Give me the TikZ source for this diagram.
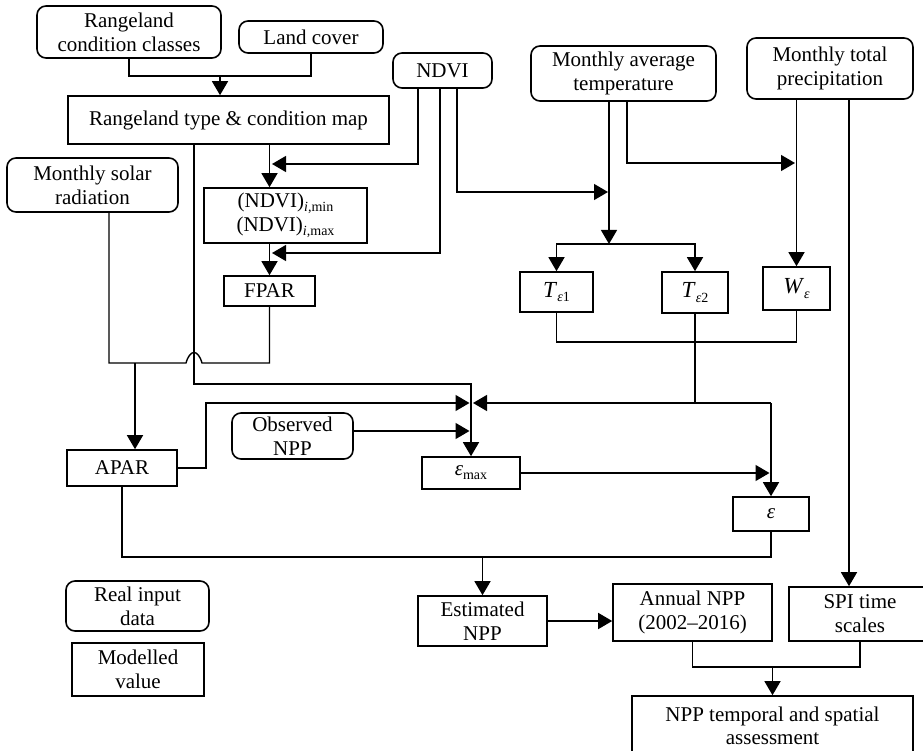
\documentclass[tikz,border=0pt]{standalone}
\usepackage{fontspec}
\setmainfont{Liberation Serif}
\usetikzlibrary{arrows.meta}
\newcommand\mysub[1]{\raisebox{-0.4ex}{\fontsize{14}{15}\selectfont #1}}
\begin{document}
\begin{tikzpicture}[x=1pt,y=-1pt, line width=1.4pt,
  box/.style={draw, line width=1.6pt, inner sep=0pt, align=center, font=\fontsize{21}{24}\selectfont},
  rbox/.style={box, rounded corners=9pt},
  arr/.style={-{Triangle[length=14pt,width=16pt]}}]
\useasboundingbox (0,0) rectangle (923,751);
\clip (0,0) rectangle (923,751);

% nodes
\node[rbox, minimum width=184pt, minimum height=52pt] (rcc) at (129,32) {Rangeland\\condition classes};
\node[rbox, minimum width=144pt, minimum height=32pt] (lc) at (311,37) {Land cover};
\node[box, minimum width=321pt, minimum height=48pt] (map) at (228.5,120) {Rangeland type \& condition map};
\node[rbox, minimum width=99pt, minimum height=35pt] (ndvi) at (442.5,70.5) {NDVI};
\node[rbox, minimum width=185pt, minimum height=55pt] (temp) at (623.5,73.5) {Monthly average\\temperature};
\node[rbox, minimum width=166pt, minimum height=61pt] (prec) at (830,68.5) {Monthly total\\precipitation};
\node[rbox, minimum width=171pt, minimum height=54pt] (solar) at (92.5,185) {Monthly solar\\radiation};
\node[box, minimum width=163pt, minimum height=55pt] (ndvimm) at (285.5,215.5) {(NDVI)\mysub{\textit{i},min}\\(NDVI)\mysub{\textit{i},max}};
\node[box, minimum width=91pt, minimum height=30pt] (fpar) at (269.5,291) {FPAR};
\node[box, minimum width=73pt, minimum height=40pt, font=\fontsize{23}{24}\selectfont] (te1) at (556.5,292) {\textit{T}\mysub{\textit{ε}1}};
\node[box, minimum width=66pt, minimum height=41pt, font=\fontsize{23}{24}\selectfont] (te2) at (695,292.5) {\textit{T}\mysub{\textit{ε}2}};
\node[box, minimum width=67pt, minimum height=43pt, font=\fontsize{23}{24}\selectfont] (we) at (796.5,288.5) {\textit{W}\mysub{\textit{ε}}};
\node[box, minimum width=110pt, minimum height=36pt] (apar) at (122,468) {APAR};
\node[rbox, minimum width=121pt, minimum height=46pt] (obs) at (292.5,436) {Observed\\NPP};
\node[box, minimum width=98pt, minimum height=32pt] (emax) at (471,473) {\textit{ε}\mysub{max}};
\node[box, minimum width=76pt, minimum height=34pt] (eps) at (771,514) {\textit{ε}};
\node[box, minimum width=129pt, minimum height=50pt] (est) at (482.5,621) {Estimated\\NPP};
\node[box, minimum width=159pt, minimum height=57pt] (ann) at (692.5,612.5) {Annual NPP\\(2002--2016)};
\node[box, minimum width=142pt, minimum height=54pt] (spi) at (860,614) {SPI time\\scales};
\node[box, minimum width=281pt, minimum height=60pt, font=\fontsize{21}{23}\selectfont] (assess) at (772.5,726) {NPP temporal and spatial\\assessment};
\node[rbox, minimum width=143pt, minimum height=50pt] (real) at (137.5,606) {Real input\\data};
\node[box, minimum width=132pt, minimum height=53pt] (model) at (138,669.5) {Modelled\\value};

% coordinates
\coordinate (j1) at (220,76);
\coordinate (a1) at (272,164);
\coordinate (a2) at (272,253);
\coordinate (a3) at (608,192);
\coordinate (tsplit) at (609,244);
\coordinate (a4) at (795,163);
\coordinate (tw) at (796.5,342);
\coordinate (e1) at (771,403);
\coordinate (a5) at (473,403);
\coordinate (a6) at (469.5,403);
\coordinate (a7) at (469.5,431);
\coordinate (a8) at (769.5,473);
\coordinate (p1) at (206,403);
\coordinate (m1) at (194,384);
\coordinate (s1) at (109,363);
\coordinate (s2) at (135,363);
\coordinate (jl) at (186,363);
\coordinate (jr) at (202,363);
\coordinate (b1) at (482.5,557);
\coordinate (b2) at (772.5,667);

% connectors
\draw (rcc.south) |- (j1) -| (lc.south);
\draw[arr] (j1) -- (j1 |- map.north);
\draw[arr] (map.south -| fpar.north) -- (ndvimm.north -| fpar.north);
\draw[arr] (ndvimm.south -| fpar.north) -- (fpar.north);
\draw[arr] ([xshift=-24.5pt]ndvi.south) |- (a1);
\draw[arr] ([xshift=-2.5pt]ndvi.south) |- (a2);
\draw[arr] ([xshift=14.5pt]ndvi.south) |- (a3);
\draw[arr] (temp.south -| tsplit) -- (tsplit);
\draw[arr] (tsplit) -| (te1.north);
\draw[arr] (tsplit) -| (te2.north);
\draw[arr] ([xshift=3.5pt]temp.south) |- (a4);
\draw[arr] (prec.south -| we.north) -- (we.north);
\draw[arr] ([xshift=19pt]prec.south) coordinate (pp) -- (pp |- spi.north);
\draw (te1.south) |- (tw) -- (we.south);
\draw (te2.south) -- (te2.south |- e1);
\draw[arr] (e1) -- (a5);
\draw[arr] (e1) -- (eps.north);
\draw[arr] (emax.east) -- (a8);
\draw (solar.south -| s1) -- (s1) -- (jl) .. controls (190,349) and (198,349) .. (jr) -| (fpar.south);
\draw[arr] (s2) -- (s2 |- apar.north);
\draw[arr] (map.south -| m1) -- (m1) -| (emax.north);
\draw[arr] (apar.east) -| (p1) -- (a6);
\draw[arr] ([yshift=5pt]obs.east) -- (a7);
\draw (apar.south) |- (b1) -| (eps.south);
\draw[arr] (b1) -- (est.north);
\draw[arr] (est.east) -- (est.east -| ann.west);
\draw (ann.south) |- (b2) -| (spi.south);
\draw[arr] (b2) -- (assess.north);
\end{tikzpicture}
\end{document}
